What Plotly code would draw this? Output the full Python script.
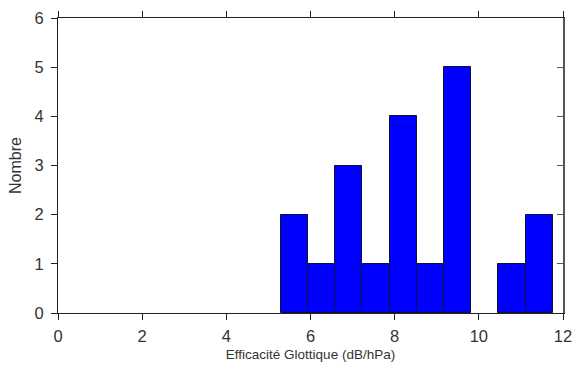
import plotly.graph_objects as go

# histogram
bin_edges = [5.29, 5.94, 6.58, 7.23, 7.88, 8.52, 9.17, 9.82, 10.46, 11.11, 11.76]
counts = [2, 1, 3, 1, 4, 1, 5, 0, 1, 2]
x_ticks = [0, 2, 4, 6, 8, 10, 12]
y_ticks = [0, 1, 2, 3, 4, 5, 6]

centers = [(a + b) / 2 for a, b in zip(bin_edges[:-1], bin_edges[1:])]
widths = [b - a for a, b in zip(bin_edges[:-1], bin_edges[1:])]

font = "Liberation Sans, Arial, sans-serif"

fig = go.Figure()
fig.add_trace(go.Bar(
    x=centers, y=counts, width=widths,
    marker=dict(color="#0000FF",
                line=dict(color="#111133", width=[1 if c else 0 for c in counts])),
    showlegend=False, hoverinfo="x+y",
))

fig.update_layout(
    width=574, height=372,
    margin=dict(l=58, r=11, t=18, b=59),
    paper_bgcolor="white", plot_bgcolor="white",
    font=dict(family=font, size=13, color="#333333"),
    bargap=0,
    xaxis=dict(
        range=[0, 12], tickvals=x_ticks, ticks="outside", ticklen=6,
        tickcolor="#222", showline=True, linecolor="#222", linewidth=1.2,
        mirror="ticks", showgrid=False, zeroline=False, automargin=False,
        tickfont=dict(size=16.5, color="#333"), ticklabelstandoff=2,
        title=dict(text="Efficacité Glottique (dB/hPa)", font=dict(size=13.5, color="#333"),
                   standoff=5),
    ),
    yaxis=dict(
        range=[0, 6], tickvals=y_ticks, ticks="outside", ticklen=6,
        tickcolor="#222", showline=True, linecolor="#222", linewidth=1.2,
        showgrid=False, zeroline=False, automargin=False,
        tickfont=dict(size=16.5, color="#333"), ticklabelstandoff=4,
        title=dict(text="Nombre", font=dict(size=16, color="#333"), standoff=8),
    ),
    yaxis2=dict(
        overlaying="y", side="right", matches="y", range=[0, 6],
        tickvals=y_ticks, ticks="inside", ticklen=6, tickcolor="#555",
        showline=True, linecolor="#555", linewidth=1.5, automargin=False,
        showticklabels=False, showgrid=False, zeroline=False,
    ),
)
fig.add_trace(go.Scatter(x=[None], y=[None], yaxis="y2", showlegend=False, hoverinfo="skip"))

# page body has a default 8px margin; drop it so the figure sits at 0,0
fig.write_html("out.html", config={"displayModeBar": False},
               post_script="document.body.style.margin='0';")
